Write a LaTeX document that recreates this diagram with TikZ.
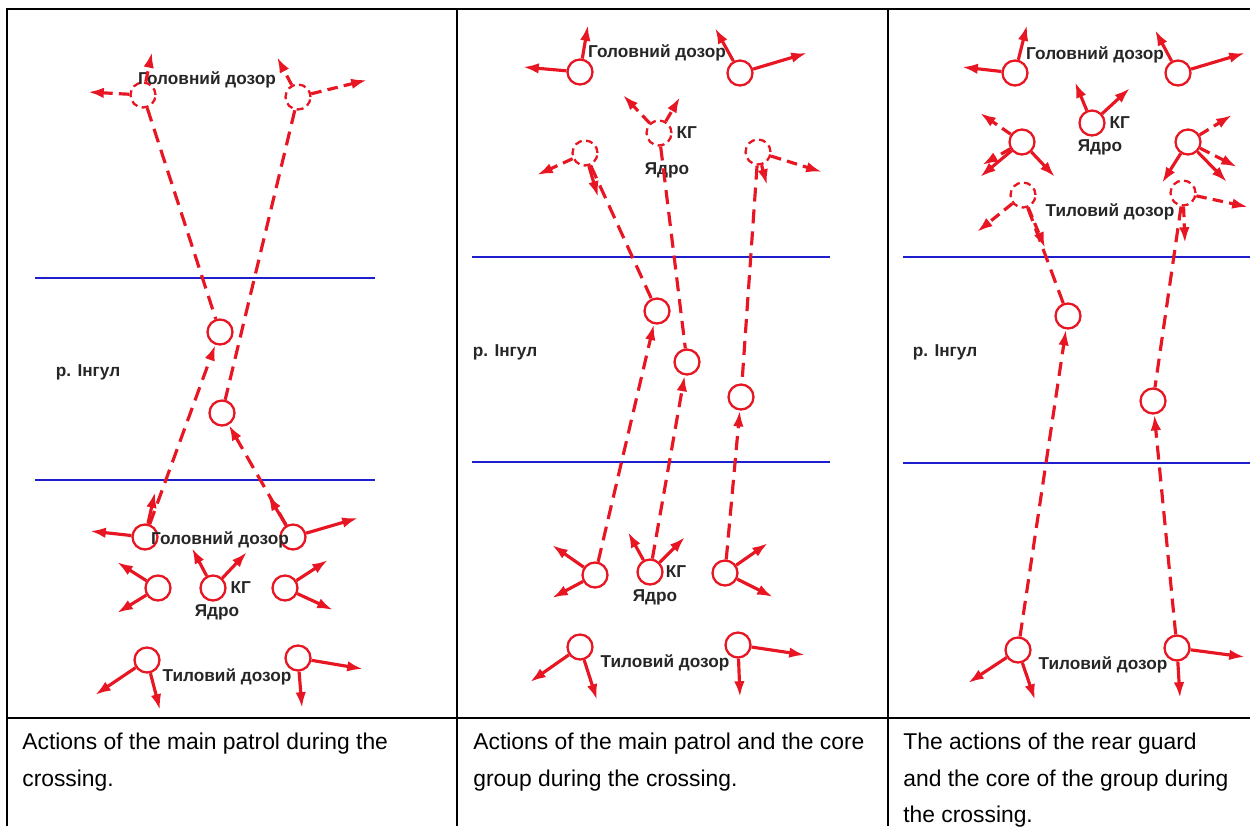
\documentclass[tikz,border=0pt]{standalone}
\usepackage{fontspec}
\setmainfont{Liberation Sans}
\usetikzlibrary{positioning,arrows.meta}
\definecolor{rd}{RGB}{232,22,34}
\definecolor{rv}{RGB}{30,30,205}
\newcommand\lblfont{\fontsize{9.8}{11}\bfseries\selectfont}
\newcommand\capfont{\fontsize{13}{20.6}\selectfont}
\tikzset{
 gr/.style={circle,draw=rd,line width=1.3pt,minimum size=0.5cm,inner sep=0pt},
 grd/.style={gr,dash pattern=on 4pt off 2.5pt},
 arr/.style={draw=rd,line width=1.8pt,-{Latex[length=9pt,width=6pt]}},
 darr/.style={arr,dash pattern=on 6pt off 3.5pt},
 mv/.style={draw=rd,line width=1.8pt,dash pattern=on 8pt off 4.5pt},
 river/.style={draw=rv,line width=1.5pt},
 tbl/.style={draw=black,line width=1.2pt},
 txt/.style={font=\lblfont,inner sep=0pt,text=black!85},
 captext/.style={font=\capfont,inner sep=0pt,anchor=north west,align=left}
}
\begin{document}
\begin{tikzpicture}[x=0.02cm,y=-0.02cm]
\useasboundingbox (0,0) rectangle (1250,826);
% table
\draw[tbl] (7,826) -- (7,9) -- (1250,9);
\draw[tbl] (7,718) -- (1250,718);
\draw[tbl] (457,9) -- (457,826);
\draw[tbl] (888,9) -- (888,826);
% rivers
\draw[river] (35,278) -- (375,278);
\draw[river] (35,480) -- (375,480);
\draw[river] (472,257) -- (830,257);
\draw[river] (472,462) -- (830,462);
\draw[river] (903,257) -- (1250,257);
\draw[river] (903,463) -- (1250,463);
\node[txt] (r1) at (88,372) {р. Інгул};
\node[txt] (r2) at (505,352) {р. Інгул};
\node[txt] (r3) at (945,352) {р. Інгул};

% panel 1
\node[grd] (p1h1) at (143,95) {};
\node[grd] (p1h2) at (298,97) {};
\node[txt] (l1a) at (207,80) {Головний дозор};
\node[gr] (p1m1) at (220,332) {};
\node[gr] (p1m2) at (222,413) {};
\node[gr] (p1b1) at (145,537) {};
\node[gr] (p1b2) at (293,537) {};
\node[txt] (l1b) at (220,540) {Головний дозор};
\node[gr] (p1y1) at (158,588) {};
\node[gr] (p1k) at (213,588) {};
\node[gr] (p1y2) at (285,588) {};
\node[txt,right=2pt of p1k] (k1) {КГ};
\node[txt] (j1) at (217,612) {Ядро};
\node[gr] (p1t1) at (147,660) {};
\node[gr] (p1t2) at (298,658) {};
\node[txt] (l1c) at (227,677) {Тиловий дозор};

% panel 2
\node[gr] (p2h1) at (580,72) {};
\node[gr] (p2h2) at (740,73) {};
\node[txt] (l2a) at (657,53) {Головний дозор};
\node[grd] (p2k) at (659,133) {};
\node[txt,right=2pt of p2k] (k2) {КГ};
\node[txt] (j2) at (667,170) {Ядро};
\node[grd] (p2d1) at (585,153) {};
\node[grd] (p2d2) at (758,152) {};
\node[gr] (p2m1) at (657,311) {};
\node[gr] (p2m2) at (687,362) {};
\node[gr] (p2m3) at (741,397) {};
\node[gr] (p2b1) at (595,575) {};
\node[gr] (p2k2) at (650,572) {};
\node[gr] (p2b2) at (725,573) {};
\node[txt,right=1pt of p2k2] (k3) {КГ};
\node[txt] (j3) at (655,597) {Ядро};
\node[gr] (p2t1) at (580,647) {};
\node[gr] (p2t2) at (738,645) {};
\node[txt] (l2c) at (665,663) {Тиловий дозор};

% panel 3
\node[gr] (p3h1) at (1015,73) {};
\node[gr] (p3h2) at (1178,73) {};
\node[txt] (l3a) at (1095,55) {Головний дозор};
\node[gr] (p3k) at (1092,123) {};
\node[txt,right=2pt of p3k] (k4) {КГ};
\node[txt] (j4) at (1100,147) {Ядро};
\node[gr] (p3y1) at (1022,142) {};
\node[gr] (p3y2) at (1188,142) {};
\node[grd] (p3d1) at (1023,195) {};
\node[grd] (p3d2) at (1183,193) {};
\node[txt] (l3b) at (1110,212) {Тиловий дозор};
\node[gr] (p3m1) at (1068,316) {};
\node[gr] (p3m2) at (1153,401) {};
\node[gr] (p3t1) at (1018,650) {};
\node[gr] (p3t2) at (1177,648) {};
\node[txt] (l3c) at (1103,665) {Тиловий дозор};

% routes over the river
\foreach \a/\b in {p1h1/p1m1,p1h2/p1m2,p2d1/p2m1,p2k/p2m2,p2d2/p2m3,p3d1/p3m1,p3d2/p3m2}
  \draw[mv] (\a) -- (\b);
\foreach \a/\b in {p1b1/p1m1,p1b2/p1m2,p2b1/p2m1,p2k2/p2m2,p2b2/p2m3,p3t1/p3m1,p3t2/p3m2}
  \draw[mv,arr] (\a) -- (\b);

% directions of observation
\foreach \n/\p in {p1b1/{90,531},p1b1/{155,492},p1b2/{268,495},p1b2/{358,518},
  p1y1/{117,562},p1y1/{117,613},p1k/{192,548},p1k/{247,552},p1y2/{328,560},
  p1y2/{333,610},p1t1/{95,695},p1t1/{160,710},p1t2/{363,669},p1t2/{302,708},
  p2h1/{523,67},p2h1/{588,25},p2h2/{715,28},p2h2/{807,53},p2d1/{598,197},
  p2d2/{767,185},p2b1/{552,545},p2b1/{552,598},p2k2/{628,532},p2k2/{685,537},
  p2b2/{768,543},p2b2/{773,597},p2t1/{530,682},p2t1/{597,700},p2t2/{805,655},
  p2t2/{740,697},p3h1/{962,67},p3h1/{1027,25},p3h2/{1155,30},p3h2/{1245,53},
  p3k/{1075,82},p3k/{1130,88},p3y1/{980,177},p3y1/{1055,177},p3y2/{1162,183},
  p3y2/{1227,182},p3t1/{968,683},p3t1/{1035,700},p3t2/{1245,657},p3t2/{1180,698}}
  {\coordinate (tip) at (\p);
   \draw[arr] (\n) -- (tip);}
\foreach \n/\p in {p1h1/{88,92},p1h1/{152,52},p1h2/{277,57},p1h2/{367,80},
  p2k/{623,95},p2k/{680,97},p2d1/{537,175},p2d2/{822,172},
  p3y1/{980,113},p3y1/{982,165},p3y2/{1232,115},p3y2/{1237,167},
  p3d1/{977,232},p3d1/{1045,248},p3d2/{1248,207},p3d2/{1185,243}}
  {\coordinate (tip) at (\p);
   \draw[darr] (\n) -- (tip);}

% captions
\node[captext] (c1) at (22,733) {Actions of the main patrol during the\\crossing.};
\node[captext] (c2) at (473,733) {Actions of the main patrol and the core\\group during the crossing.};
\node[captext] (c3) at (903,733) {The actions of the rear guard\\and the core of the group during\\the crossing.};
\end{tikzpicture}
\end{document}
